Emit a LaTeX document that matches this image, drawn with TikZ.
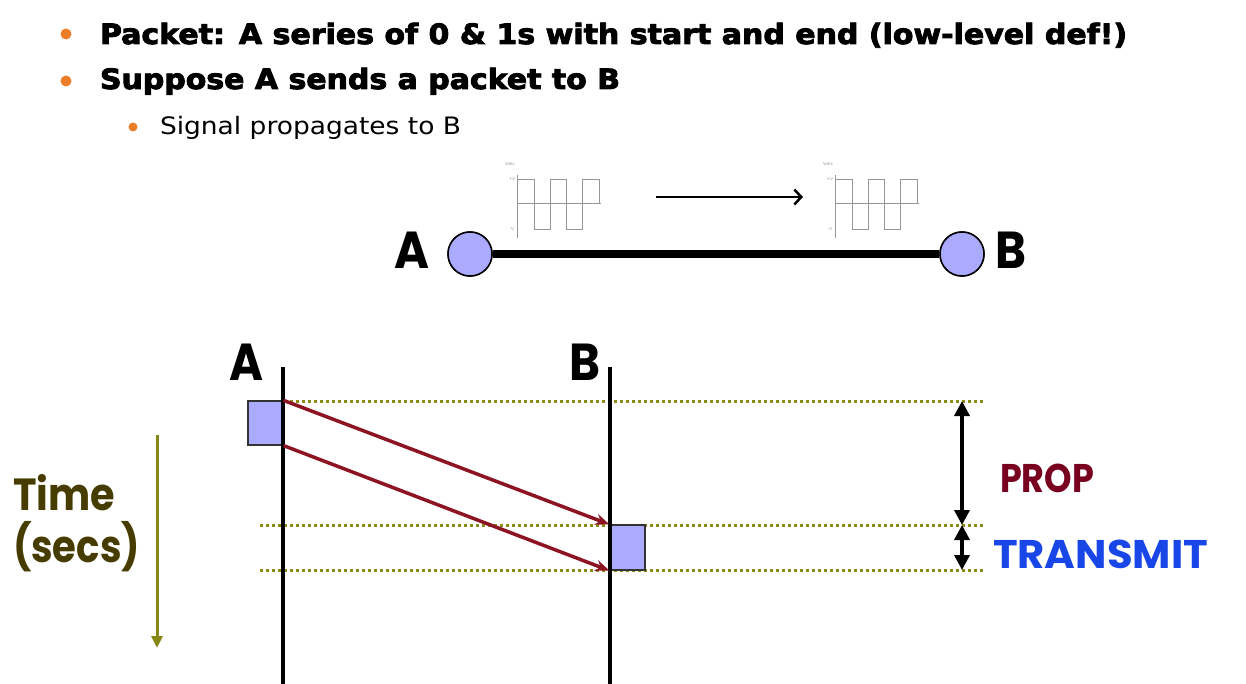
\documentclass[tikz,border=0pt]{standalone}
\usepackage{fontspec}
\usepackage{graphicx}
\setmainfont{DejaVu Sans}
\newfontfamily\heavyfont{DejaVu Sans Bold}[FakeBold=3]
\newfontfamily\comic{Poppins}
\usetikzlibrary{arrows.meta}
\definecolor{bulletorange}{RGB}{235,125,40}
\definecolor{dotolive}{RGB}{140,140,20}
\definecolor{timetext}{RGB}{70,60,0}
\definecolor{timearrow}{RGB}{135,135,20}
\definecolor{msgred}{RGB}{140,20,35}
\definecolor{propred}{RGB}{120,0,30}
\definecolor{transblue}{RGB}{25,70,230}
\definecolor{pktfill}{RGB}{170,170,255}
\definecolor{wavegray}{RGB}{150,150,150}
\begin{document}
\begin{tikzpicture}[x=1pt,y=-1pt,
  txt/.style={inner sep=0pt,outer sep=0pt,anchor=base west},
  bigletter/.style={inner sep=0pt,outer sep=0pt,anchor=base west,font=\comic\bfseries\fontsize{52}{52}\selectfont},
  station/.style={circle,draw=black,line width=1.5pt,fill=pktfill,minimum size=44pt,inner sep=0pt},
  pkt/.style={rectangle,draw=black!80,line width=1.2pt,fill=pktfill,minimum width=35pt,minimum height=44pt,inner sep=0pt},
  timeline/.style={line width=4.5pt,black},
  dotline/.style={dotolive,line width=3pt,dash pattern=on 3pt off 3pt},
  msg/.style={msgred,line width=3.5pt,-{Stealth[length=14pt,width=11pt]}},
  span/.style={black,line width=3.5pt,{Triangle[length=15pt,width=15pt]}-{Triangle[length=15pt,width=15pt]}},
  wave/.style={wavegray,line width=0.9pt},
  tiny/.style={inner sep=0pt,font=\fontsize{4}{4}\selectfont,text=wavegray}
]
\useasboundingbox (0,0) rectangle (1246,684);

% bullets
\fill[bulletorange] (66,34) circle (5.5);
\fill[bulletorange] (66,81) circle (5.5);
\fill[bulletorange] (133,127) circle (4.5);

\node[txt] (l1) at (100,44) {\fontsize{28}{28}\heavyfont\resizebox{1027pt}{\height}{Packet: A series of 0 \& 1s with start and end (low-level def!)}};
\node[txt] (l2) at (100,89) {\fontsize{28}{28}\heavyfont\resizebox{520pt}{\height}{Suppose A sends a packet to B}};
\node[txt] (l3) at (160,135) {\fontsize{24}{24}\selectfont\resizebox{301pt}{\height}{Signal propagates to B}};

% waveforms
\foreach \dx/\nm in {0/wa,318/wb}{
  \begin{scope}[xshift=\dx pt]
    \draw[wave] (517,175) -- (517,238);
    \draw[wave] (517,203) -- (601,203);
    \draw[wave] (517,179) -- (534,179) -- (534,229) -- (550,229) -- (550,179) -- (566,179) -- (566,229) -- (582,229) -- (582,179) -- (599,179) -- (599,203);
    \node[tiny] (\nm v) at (510,164) {Volts};
    \node[tiny] (\nm p) at (512,179) {+V};
    \node[tiny] (\nm m) at (512,229) {-V};
  \end{scope}
}
\coordinate (sigs) at (656,197);
\coordinate (sige) at (803,197);
\draw[black,line width=1.5pt,-{Straight Barb[length=7pt,width=15pt,line width=2.5pt]}] (sigs) -- (sige);

% link
\node[station] (na) at (470,254) {};
\node[station] (nb) at (962,254) {};
\draw[line width=7.5pt] (na) -- (nb);
\node[station] at (470,254) {};
\node[station] at (962,254) {};
\node[bigletter] (la) at (394,269) {\resizebox{35pt}{\height}{A}};
\node[bigletter] (lb) at (995,269) {\resizebox{31pt}{\height}{B}};

% timelines
\coordinate (at) at (283,367);
\coordinate (ab) at (283,684);
\coordinate (bt) at (610,367);
\coordinate (bb) at (610,684);
\node[bigletter] (ta) at (229,380) {\resizebox{34pt}{\height}{A}};
\node[bigletter] (tb) at (569,380) {\resizebox{31pt}{\height}{B}};

% dotted levels
\coordinate (d1s) at (260,401); \coordinate (d1e) at (985,401);
\coordinate (d2s) at (260,525); \coordinate (d2e) at (985,525);
\coordinate (d3s) at (260,570); \coordinate (d3e) at (985,570);
\draw[dotline] (d1s) -- (d1e);
\draw[dotline] (d2s) -- (d2e);
\draw[dotline] (d3s) -- (d3e);

\node[pkt] (pa) at (265.5,423) {};
\node[pkt,minimum height=45pt] (pb) at (627.5,547.5) {};
\draw[timeline] (at) -- (ab);
\draw[timeline] (bt) -- (bb);

\draw[msg] (pa.north east) -- (pb.north west);
\draw[msg] (pa.south east) -- (pb.south west);

% spans
\coordinate (s1) at (962,401);
\coordinate (s2) at (962,525);
\coordinate (s3) at (962,570);
\draw[span] (s1) -- (s2);
\draw[span] (s2) -- (s3);
\node[txt,text=propred,font=\comic\bfseries\fontsize{40}{40}\selectfont] (prop) at (1000,492) {\resizebox{94pt}{\height}{PROP}};
\node[txt,text=transblue,font=\comic\bfseries\fontsize{40}{40}\selectfont] (trans) at (993,568) {\resizebox{215pt}{\height}{TRANSMIT}};

% time axis
\coordinate (tt) at (157,435);
\coordinate (tbm) at (157,648);
\draw[timearrow,line width=3pt,-{Triangle[length=12pt,width=11pt]}] (tt) -- (tbm);
\node[txt,text=timetext,font=\comic\bfseries\fontsize{45}{45}\selectfont] (time) at (13,510) {\resizebox{102pt}{\height}{Time}};
\node[txt,text=timetext,font=\comic\bfseries\fontsize{45}{45}\selectfont] (secs) at (13,562) {\resizebox{127pt}{\height}{(secs)}};
\end{tikzpicture}
\end{document}
